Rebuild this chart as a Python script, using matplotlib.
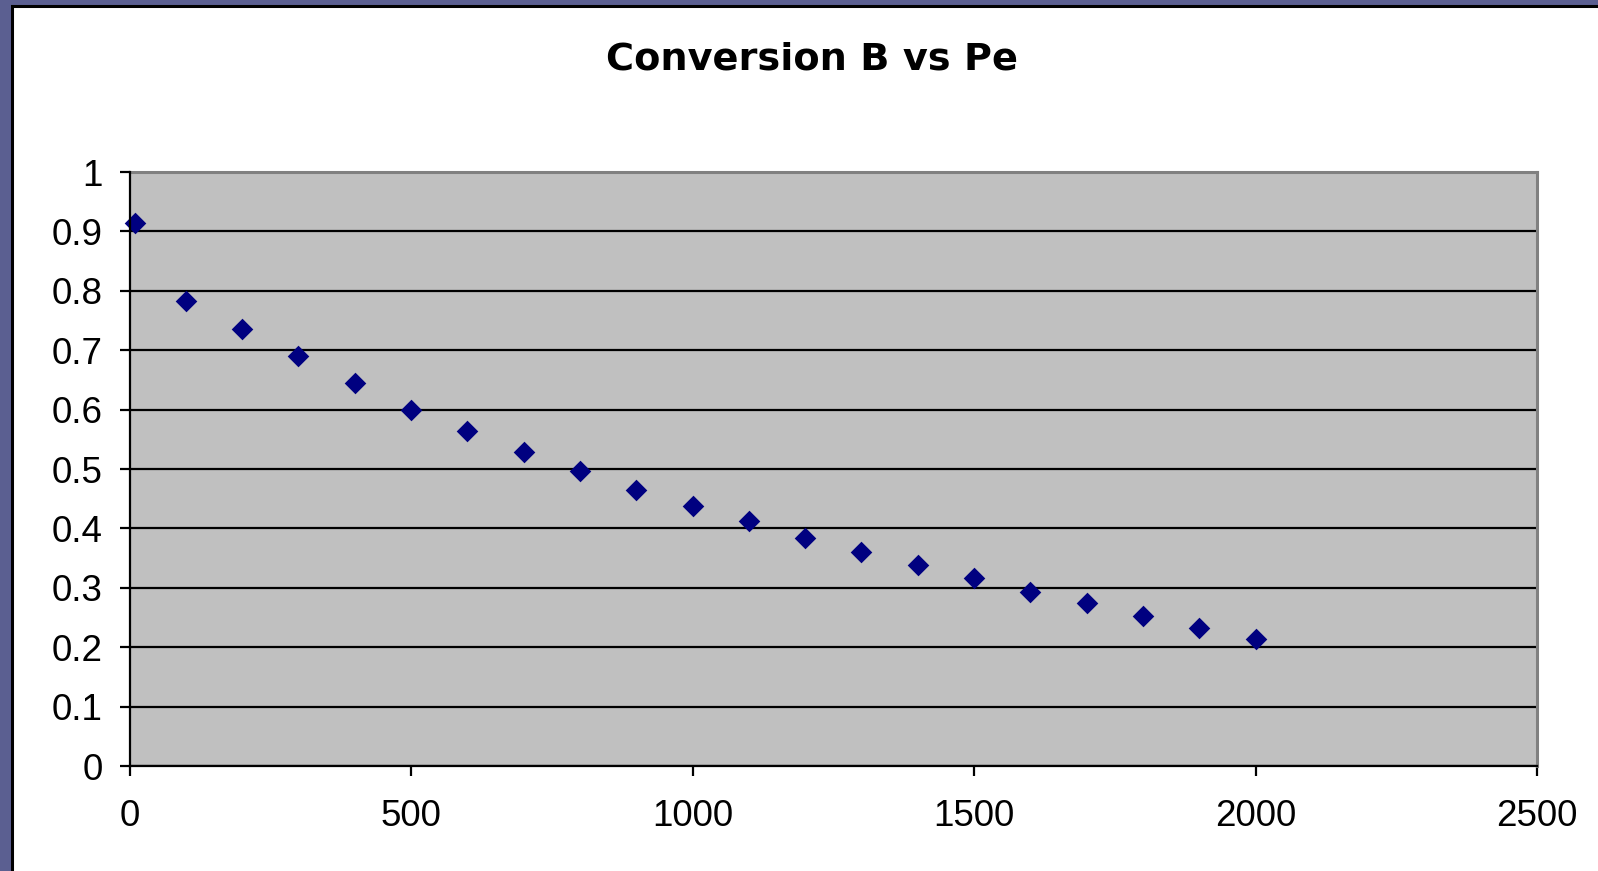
import numpy as np
import matplotlib
matplotlib.use("Agg")
from matplotlib import pyplot as plt
from matplotlib.patches import Rectangle

# Peclet number and conversion of B
pe = [10, 100, 200, 300, 400, 500, 600, 700, 800, 900, 1000,
      1100, 1200, 1300, 1400, 1500, 1600, 1700, 1800, 1900, 2000]
conversion_b = [0.914, 0.782, 0.736, 0.691, 0.645, 0.600, 0.564, 0.528, 0.496, 0.465, 0.437,
                0.412, 0.384, 0.360, 0.338, 0.316, 0.293, 0.274, 0.252, 0.233, 0.214]

x_ticks = [0, 500, 1000, 1500, 2000, 2500]
y_ticks = [0, 0.1, 0.2, 0.3, 0.4, 0.5, 0.6, 0.7, 0.8, 0.9, 1]
y_labels = ["0", "0.1", "0.2", "0.3", "0.4", "0.5", "0.6", "0.7", "0.8", "0.9", "1"]

plt.rcParams['font.family'] = ['Liberation Sans', 'DejaVu Sans']

W, H = 1598, 871
fig = plt.figure(figsize=(W / 100, H / 100), dpi=100, facecolor='#5b5f91')

# white chart panel with black border over the slide background
fig.patches.append(Rectangle((11.5 / W, -0.01), 1.02, 1 - 5.5 / H + 0.01,
                             transform=fig.transFigure, facecolor='white',
                             edgecolor='black', linewidth=2.2, zorder=0))

ax = fig.add_axes([129.5 / W, 1 - 766 / H, (1537 - 129.5) / W, (766 - 172) / H])
ax.set_zorder(2)
ax.set_facecolor('#c0c0c0')

ax.scatter(pe, conversion_b, marker='D', s=11 ** 2, color='#000080', zorder=3,
           clip_on=False, linewidths=0)

ax.set_xlim(0, 2500)
ax.set_ylim(0, 1)
ax.set_xticks(x_ticks)
ax.set_yticks(y_ticks)
ax.set_yticklabels(y_labels)
ax.grid(axis='y', color='black', linewidth=1.6)
ax.set_axisbelow(True)

for side in ['left', 'bottom']:
    ax.spines[side].set_color('black')
    ax.spines[side].set_linewidth(1.6)
    ax.spines[side].set_zorder(4)
for side in ['top', 'right']:
    ax.spines[side].set_color('#808080')
    ax.spines[side].set_linewidth(2.2)

ax.tick_params(direction='out', length=7.5, width=1.6, labelsize=26.5, colors='black')
ax.tick_params(axis='y', pad=12)
ax.tick_params(axis='x', pad=16)

fig.text(812 / W, 1 - 60 / H, "Conversion B vs Pe", fontsize=27.5, fontweight='bold',
         family='DejaVu Sans', ha='center', va='center', zorder=3)

fig.savefig("out.png", dpi=100, facecolor=fig.get_facecolor())
